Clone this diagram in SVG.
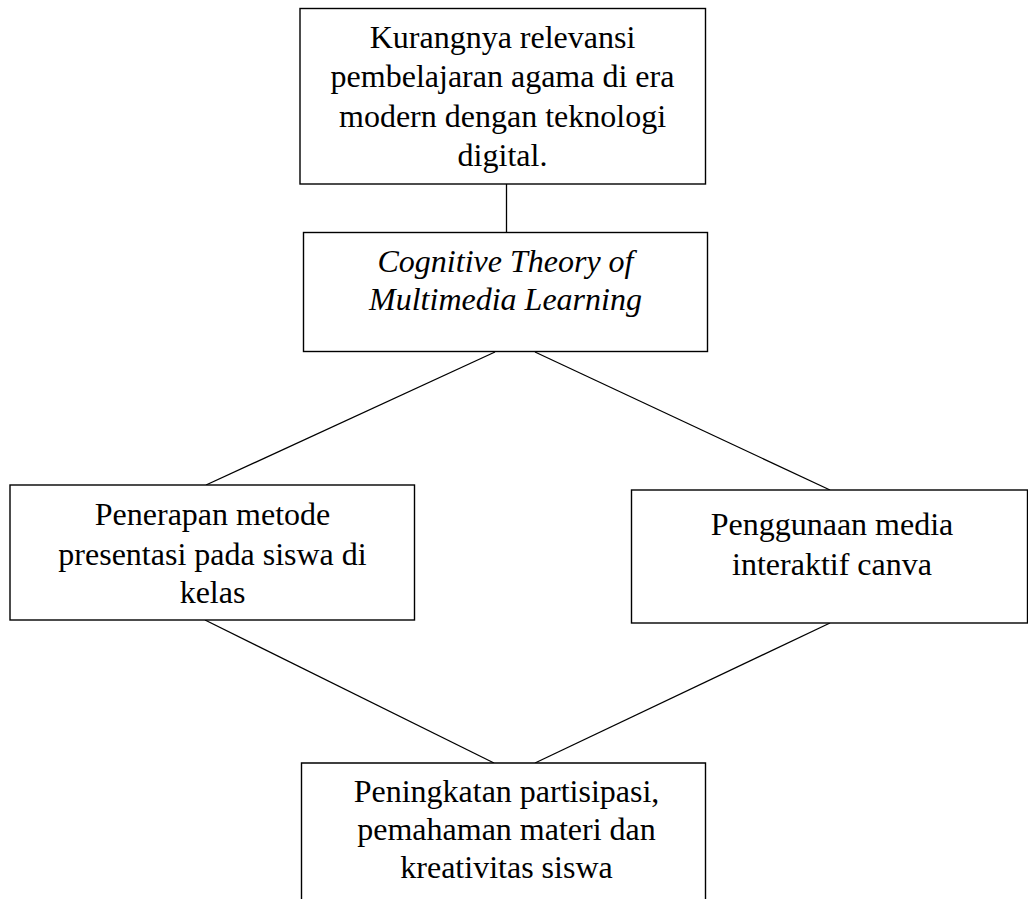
<svg xmlns="http://www.w3.org/2000/svg" width="1028" height="899" viewBox="0 0 1028 899">
<style>
.box{fill:#fff;stroke:#000;stroke-width:1.4}
.t{font-family:"Liberation Serif","Times New Roman",serif;font-size:32px;fill:#000;text-anchor:middle}
.i{font-style:italic}
.c{stroke:#000;stroke-width:1.3;fill:none}
</style>
<rect width="1028" height="899" fill="#fff"/>
<g id="connectors">
<line class="c" x1="506.5" y1="184" x2="506.5" y2="232"/>
<line class="c" x1="495" y1="352" x2="206" y2="485"/>
<line class="c" x1="535" y1="352" x2="830" y2="490"/>
<line class="c" x1="205" y1="620" x2="494" y2="763"/>
<line class="c" x1="830" y1="623" x2="535" y2="763"/>
</g>
<g id="node1">
<rect class="box" x="300" y="8.5" width="405.5" height="175.5"/>
<text class="t" x="502.5" y="48">Kurangnya relevansi</text>
<text class="t" x="502.5" y="87">pembelajaran agama di era</text>
<text class="t" x="502.5" y="127">modern dengan teknologi</text>
<text class="t" x="502.5" y="166">digital.</text>
</g>
<g id="node2">
<rect class="box" x="303.5" y="232.5" width="404" height="119"/>
<text class="t i" x="505.5" y="272">Cognitive Theory of</text>
<text class="t i" x="505.5" y="310">Multimedia Learning</text>
</g>
<g id="node3">
<rect class="box" x="10" y="485" width="404.5" height="135"/>
<text class="t" x="212.5" y="525">Penerapan metode</text>
<text class="t" x="212.5" y="565">presentasi pada siswa di</text>
<text class="t" x="212.5" y="603">kelas</text>
</g>
<g id="node4">
<rect class="box" x="631.5" y="490" width="396" height="133"/>
<text class="t" x="832" y="535">Penggunaan media</text>
<text class="t" x="832" y="575">interaktif canva</text>
</g>
<g id="node5">
<path class="box" d="M301.5,899 V763 H705.5 V899"/>
<text class="t" x="506.5" y="802">Peningkatan partisipasi,</text>
<text class="t" x="506.5" y="840">pemahaman materi dan</text>
<text class="t" x="506.5" y="878">kreativitas siswa</text>
</g>
</svg>
